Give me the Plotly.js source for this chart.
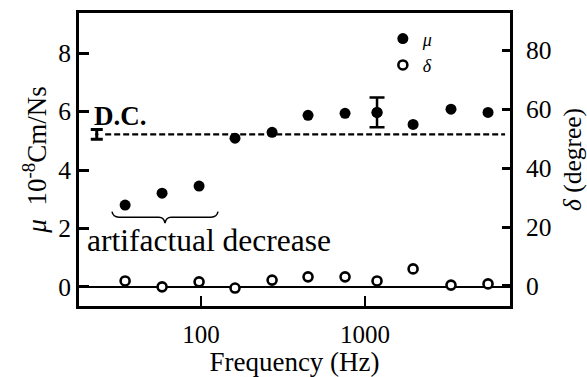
<!DOCTYPE html>
<html>
<head>
<meta charset="utf-8">
<script src="https://cdn.plot.ly/plotly-3.0.1.min.js"></script>
<style>
html,body{margin:0;padding:0;background:#fff;}
#chart{width:587px;height:377px;}
</style>
</head>
<body>
<div id="chart"></div>
<script>
// Frequency (Hz) of each measurement
const freq = [34.4, 57.8, 97.2, 161, 271, 449, 755, 1183, 1963, 3343, 5623];
// mu (10^-8 Cm/Ns)
const mu = [2.80, 3.21, 3.45, 5.09, 5.29, 5.87, 5.94, 5.97, 5.56, 6.08, 5.97];
// error bar shown on one mu point
const errFreq = [1183];
const errMu = [5.97];
const errVal = [0.51];
// delta (degree)
const delta = [1.7, -0.3, 1.4, -0.7, 2.0, 3.1, 3.1, 1.7, 5.8, 0.3, 0.7];
// D.C. value
const dcFreq = [23.1];
const dcMu = [5.22];
const dcErr = [0.17];
const dcLineFreq = [26, 7145];
const dcLineMu = [5.22, 5.22];
// ticks
const xTicks = [100, 1000];
const yTicks = [0, 2, 4, 6, 8];
const y2Ticks = [0, 20, 40, 60, 80];

const FONT = 'Liberation Serif, Tinos, DejaVu Serif, serif';

// plot area in pixels: left 79, right 510, top 12.5, bottom 306
const L = 79, R = 510, T = 12.5, B = 306;
const px = x => (x - L) / (R - L);
const py = y => (B - y) / (B - T);

const braceD = `M ${px(112)} ${py(211.5)} Q ${px(113)} ${py(217)} ${px(119)} ${py(217)} L ${px(159)} ${py(217)} Q ${px(164)} ${py(217)} ${px(165)} ${py(223)} Q ${px(166)} ${py(217)} ${px(171)} ${py(217)} L ${px(211)} ${py(217)} Q ${px(217)} ${py(217)} ${px(218)} ${py(211.5)}`;

const traces = [
  {
    x: dcLineFreq, y: dcLineMu, type: 'scatter', mode: 'lines',
    line: {color: '#000', width: 2.4, dash: '6px,3px'},
    showlegend: false, hoverinfo: 'skip'
  },
  {
    x: dcFreq, y: dcMu, type: 'scatter', mode: 'markers',
    marker: {color: '#000', size: 3},
    error_y: {type: 'data', array: dcErr, visible: true, color: '#000', thickness: 3, width: 6},
    showlegend: false
  },
  {
    x: errFreq, y: errMu, type: 'scatter', mode: 'markers',
    marker: {color: '#000', size: 11, symbol: 'circle'},
    error_y: {type: 'data', array: errVal, visible: true, color: '#000', thickness: 2.5, width: 7.5},
    showlegend: false
  },
  {
    x: freq, y: mu, type: 'scatter', mode: 'markers', name: '<i>μ</i>',
    marker: {color: '#000', size: 11, symbol: 'circle'}
  },
  {
    x: freq, y: delta, type: 'scatter', mode: 'markers', name: '<i>δ</i>', yaxis: 'y2',
    marker: {color: '#fff', size: 9, symbol: 'circle', line: {color: '#000', width: 2.6}}
  }
];

const layout = {
  width: 587, height: 377,
  margin: {l: L, r: 587 - R, t: T, b: 377 - B, pad: 0},
  paper_bgcolor: '#fff', plot_bgcolor: '#fff',
  font: {family: FONT, color: '#000', size: 25},
  showlegend: true,
  legend: {
    x: 0.705, y: 0.975, xanchor: 'left', yanchor: 'top',
    bgcolor: 'rgba(0,0,0,0)', borderwidth: 0,
    font: {family: FONT, size: 18, color: '#000'},
    itemwidth: 30, tracegroupgap: 0
  },
  xaxis: {
    type: 'log', range: [Math.log10(18.0), 3.884],
    tickvals: xTicks, ticktext: xTicks.map(String),
    ticks: 'inside', ticklen: 10, tickwidth: 2.5, tickcolor: '#000',
    showline: true, linewidth: 3, linecolor: '#000', mirror: true,
    showgrid: false, zeroline: false,
    tickfont: {family: FONT, size: 25, color: '#000'},
    ticklabelstandoff: 4,
    title: {text: 'Frequency (Hz)', font: {family: FONT, size: 27, color: '#000'}, standoff: 6}
  },
  yaxis: {
    range: [-0.65, 9.37],
    tickvals: yTicks,
    ticks: 'inside', ticklen: 10, tickwidth: 3, tickcolor: '#000',
    showline: true, linewidth: 3, linecolor: '#000',
    showgrid: false,
    zeroline: true, zerolinecolor: '#000', zerolinewidth: 2.5,
    tickfont: {family: FONT, size: 25.5, color: '#000'},
    title: {text: '<i>μ</i>  10<sup>-8</sup>Cm/Ns', font: {family: FONT, size: 27, color: '#000'}, standoff: 4}
  },
  yaxis2: {
    overlaying: 'y', side: 'right',
    range: [-6.8, 92.7],
    tickvals: y2Ticks,
    ticks: 'inside', ticklen: 8, tickwidth: 3, tickcolor: '#000',
    showline: true, linewidth: 3, linecolor: '#000',
    showgrid: false, zeroline: false,
    tickfont: {family: FONT, size: 25.5, color: '#000'},
    ticklabelstandoff: 8,
    title: {text: '<i>δ</i> (degree)', font: {family: FONT, size: 25.5, color: '#000'}, standoff: 20}
  },
  shapes: [
    {type: 'path', xref: 'paper', yref: 'paper', path: braceD, line: {color: '#000', width: 1.5}}
  ],
  annotations: [
    {xref: 'paper', yref: 'paper', x: px(209), y: py(240), text: 'artifactual decrease',
     showarrow: false, xanchor: 'center', yanchor: 'middle',
     font: {family: FONT, size: 31.5, color: '#000'}},
    {xref: 'paper', yref: 'paper', x: px(120), y: py(116), text: '<b>D.C.</b>',
     showarrow: false, xanchor: 'center', yanchor: 'middle',
     font: {family: FONT, size: 27, color: '#000'}}
  ]
};

Plotly.newPlot('chart', traces, layout, {displayModeBar: false, staticPlot: true});
</script>
</body>
</html>
